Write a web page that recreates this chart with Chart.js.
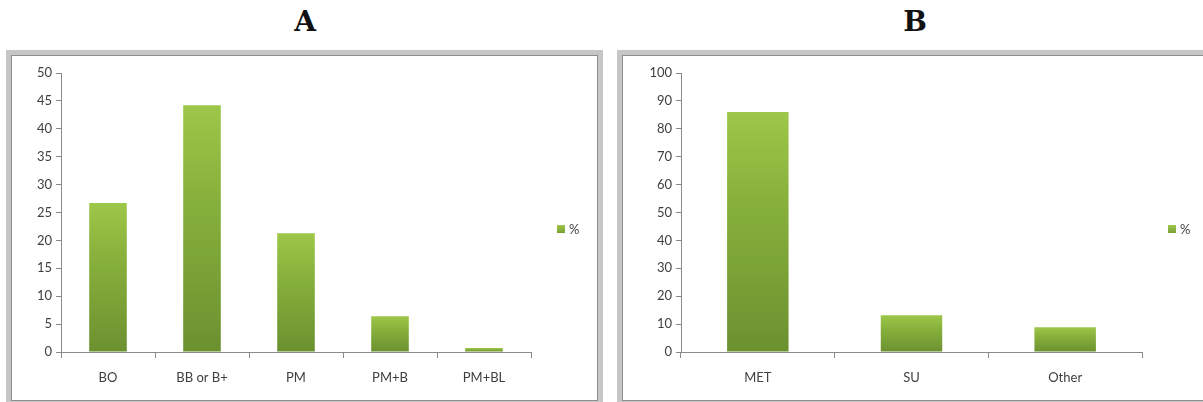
<!DOCTYPE html>
<html>
<head>
<meta charset="utf-8">
<script src="https://cdn.jsdelivr.net/npm/chart.js@4.4.1/dist/chart.umd.min.js"></script>
<style>
    html, body { margin: 0; padding: 0; background: #fff; }
    body { width: 1203px; height: 402px; position: relative; overflow: hidden; }
    .title {
        position: absolute; top: 5px; width: 60px; text-align: center;
        font: bold 28px "DejaVu Serif", serif; color: #111;
    }
    .frame {
        position: absolute; box-sizing: border-box;
        border: 5px solid #c6c6c6;
        box-shadow: inset 0 0 0 1px #8e8e8e;
        background: #fff;
    }
    .chart-box { position: absolute; }
    .legend {
        position: absolute; font: 13px Lato, sans-serif; color: #404040;
        display: flex; align-items: center;
    }
    .legend i {
        display: inline-block; width: 8px; height: 8px; margin-right: 4px;
        background: linear-gradient(#9fc74a, #77a035);
    }
</style>
</head>
<body>
<div class="title" style="left:275px">A</div>
<div class="title" style="left:885px">B</div>

<div class="frame" style="left:6px; top:50px; width:597px; height:356px"></div>
<div class="frame" style="left:617px; top:50px; width:600px; height:356px"></div>

<div class="chart-box" style="left:14px; top:56px; width:582px; height:340px">
    <canvas id="chartA"></canvas>
</div>
<div class="chart-box" style="left:625px; top:56px; width:578px; height:340px">
    <canvas id="chartB"></canvas>
</div>

<div class="legend" style="left:557px; top:221px"><i></i>%</div>
<div class="legend" style="left:1168px; top:221px"><i></i>%</div>

<script>
// Panel A: treatment groups (%)
const labelsA = ['BO', 'BB or B+', 'PM', 'PM+B', 'PM+BL'];
const valuesA = [26.7, 44.2, 21.3, 6.4, 0.7];
const ticksA = { max: 50, step: 5 };

// Panel B: therapy (%)
const labelsB = ['MET', 'SU', 'Other'];
const valuesB = [86, 13.2, 8.9];
const ticksB = { max: 100, step: 10 };

const axisColor = '#8a8a8a';
const textColor = '#404040';

Chart.defaults.font.family = "Lato, sans-serif";
Chart.defaults.font.size = 13;
Chart.defaults.color = textColor;

// vertical gradient for each bar, light on top, darker at the base
function barFill(ctx) {
    const chart = ctx.chart;
    const y = chart.scales.y;
    if (!y || ctx.type !== 'data') return '#86ad3b';
    const top = y.getPixelForValue(ctx.raw);
    const bottom = y.getPixelForValue(0);
    if (!isFinite(top) || bottom - top < 1) return '#86ad3b';
    const g = chart.ctx.createLinearGradient(0, top, 0, bottom);
    g.addColorStop(0, '#9dc748');
    g.addColorStop(0.35, '#88b23c');
    g.addColorStop(1, '#6b9130');
    return g;
}

function makeChart(id, labels, values, t, yWidth, rightPad) {
    return new Chart(document.getElementById(id), {
        type: 'bar',
        data: {
            labels: labels,
            datasets: [{
                label: '%',
                data: values,
                backgroundColor: barFill,
                borderWidth: 0,
                barPercentage: 0.8,
                categoryPercentage: 0.5
            }]
        },
        options: {
            responsive: true,
            maintainAspectRatio: false,
            animation: false,
            layout: { padding: { left: 0, right: rightPad, top: 17, bottom: 0 } },
            plugins: { legend: { display: false }, tooltip: { enabled: false } },
            scales: {
                y: {
                    min: 0, max: t.max,
                    afterFit: s => { s.width = yWidth; },
                    ticks: { stepSize: t.step, padding: 4, color: textColor },
                    grid: { drawOnChartArea: false, drawTicks: true, tickLength: 5, color: axisColor },
                    border: { display: true, color: axisColor }
                },
                x: {
                    afterFit: s => { s.height = 44; },
                    ticks: { padding: 12, color: textColor, maxRotation: 0 },
                    grid: { drawOnChartArea: false, drawTicks: true, tickLength: 6, color: axisColor, offset: true },
                    border: { display: true, color: axisColor }
                }
            }
        }
    });
}

makeChart('chartA', labelsA, valuesA, ticksA, 47, 65);
makeChart('chartB', labelsB, valuesB, ticksB, 56, 61);
</script>
</body>
</html>
